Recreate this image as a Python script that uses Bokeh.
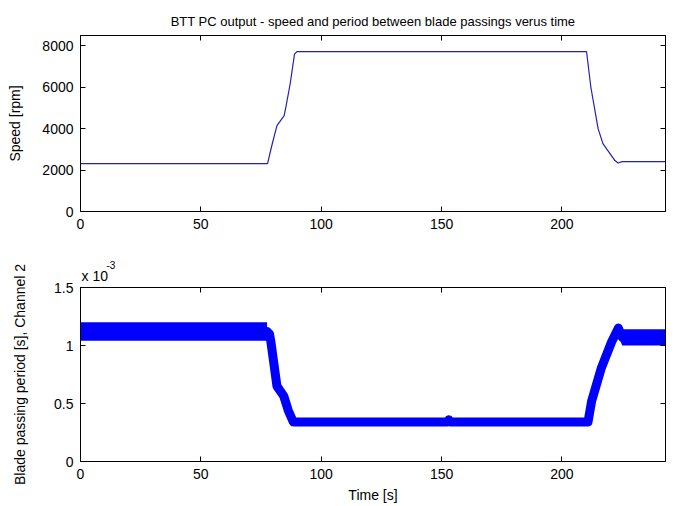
from bokeh.plotting import figure
from bokeh.layouts import column
from bokeh.models import LinearAxis, FixedTicker, CustomJSTickFormatter, Range1d, Title
from bokeh.embed import file_html
from bokeh.resources import INLINE

FONT = "Liberation Sans"
BLUE_TOP = "#2222B4"
BLUE = "#0000FF"

# rotor speed versus time [s, rpm]
speed_t = [0, 77.7, 79.5, 81.6, 84.6, 85.4, 87.1, 88.9, 89.9, 210.2, 212.0, 215.0, 217.0, 222.0, 223.3, 225.0, 243]
speed_rpm = [2310, 2310, 3200, 4150, 4630, 5100, 6170, 7600, 7725, 7725, 6000, 4000, 3280, 2460, 2340, 2410, 2410]

# blade passing period, centre of the trace [s, period in seconds]
period_t = [0, 77.5, 78.5, 79.1, 81.6, 84.4, 86.3, 88.4, 152.5, 153.0, 153.5, 210.8, 212.3, 216.4, 220.6, 223.4, 225.0, 243]
period_s = [1.12e-3, 1.12e-3, 1.10e-3, 1.03e-3, 0.65e-3, 0.565e-3, 0.44e-3, 0.34e-3, 0.34e-3, 0.36e-3, 0.34e-3,
            0.34e-3, 0.52e-3, 0.81e-3, 1.03e-3, 1.15e-3, 1.07e-3, 1.07e-3]

# scatter envelope of the period on the two low-speed stretches
band1_t = [0, 77.5]
band1_lo = [1.04e-3, 1.04e-3]
band1_hi = [1.20e-3, 1.20e-3]
band2_t = [223.5, 225.0, 243]
band2_lo = [1.08e-3, 1.00e-3, 1.00e-3]
band2_hi = [1.16e-3, 1.14e-3, 1.14e-3]

x_ticks = [0, 50, 100, 150, 200]
speed_ticks = [0, 2000, 4000, 6000, 8000]
period_ticks = [0, 0.5e-3, 1.0e-3, 1.5e-3]

X_MAX = 243


def style(p, xt, yt):
    p.xgrid.visible = False
    p.ygrid.visible = False
    p.outline_line_color = "black"
    p.outline_line_width = 1
    p.background_fill_color = "white"
    p.border_fill_color = "white"
    for ax in p.xaxis + p.yaxis:
        ax.major_label_text_font = FONT
        ax.major_label_text_font_size = "14px"
        ax.major_label_text_color = "black"
        ax.axis_label_text_font = FONT
        ax.axis_label_text_font_size = "14px"
        ax.axis_label_text_font_style = "normal"
        ax.axis_label_text_color = "black"
        ax.axis_line_color = "black"
        ax.major_tick_line_color = "black"
        ax.major_tick_in = 5
        ax.major_tick_out = 0
        ax.minor_tick_line_color = None
    p.xaxis.ticker = FixedTicker(ticks=xt)
    p.yaxis.ticker = FixedTicker(ticks=yt)
    p.xaxis.major_label_standoff = 7
    p.yaxis.major_label_standoff = 7
    # box ticks on the opposite sides
    blank = CustomJSTickFormatter(code="return ''")
    r = LinearAxis(ticker=FixedTicker(ticks=yt), formatter=blank, major_tick_in=5, major_tick_out=0,
                   minor_tick_line_color=None, axis_line_color="black", major_label_standoff=0)
    t = LinearAxis(ticker=FixedTicker(ticks=xt), formatter=blank, major_tick_in=5, major_tick_out=0,
                   minor_tick_line_color=None, axis_line_color="black", major_label_standoff=0)
    p.add_layout(r, "right")
    p.add_layout(t, "above")


p1 = figure(width=676, height=250, output_backend="svg", toolbar_location=None,
            x_range=Range1d(0, X_MAX), y_range=Range1d(0, 8500),
            min_border_left=80, min_border_right=11, min_border_top=35, min_border_bottom=39)
p1.line(speed_t, speed_rpm, line_color=BLUE_TOP, line_width=1.2)
p1.yaxis.axis_label = "Speed [rpm]"
style(p1, x_ticks, speed_ticks)
p1.yaxis[0].axis_label_standoff = 16
p1.add_layout(Title(text="BTT PC output - speed and period between blade passings verus time",
                    align="center", standoff=13, text_font=FONT, text_font_size="13px",
                    text_font_style="normal", text_color="black"), "above")

p2 = figure(width=676, height=256, output_backend="svg", toolbar_location=None,
            x_range=Range1d(0, X_MAX), y_range=Range1d(0, 1.5e-3),
            min_border_left=80, min_border_right=11, min_border_top=37, min_border_bottom=45)
p2.varea(x=band1_t, y1=band1_lo, y2=band1_hi, fill_color=BLUE)
p2.varea(x=band2_t, y1=band2_lo, y2=band2_hi, fill_color=BLUE)
p2.line(period_t, period_s, line_color=BLUE, line_width=9, line_join="round", line_cap="round")
p2.xaxis.axis_label = "Time [s]"
p2.yaxis.axis_label = "Blade passing period [s], Channel 2"
style(p2, x_ticks, period_ticks)
p2.yaxis[0].formatter = CustomJSTickFormatter(code="return String(parseFloat((tick*1000).toFixed(3)))")
p2.yaxis[0].axis_label_standoff = 23
p2.xaxis[0].axis_label_standoff = 4

# exponent marker above the period axis
p2.add_layout(Title(text="x 10", align="left", offset=1, standoff=7, text_font=FONT,
                    text_font_size="14px", text_font_style="normal", text_color="black"), "above")
p2.add_layout(Title(text="-3", align="left", offset=26, standoff=-13, text_font=FONT,
                    text_font_size="10px", text_font_style="normal", text_color="black"), "above")

layout = column(p1, p2, spacing=0)
open("out.html", "w").write(file_html(layout, INLINE))
